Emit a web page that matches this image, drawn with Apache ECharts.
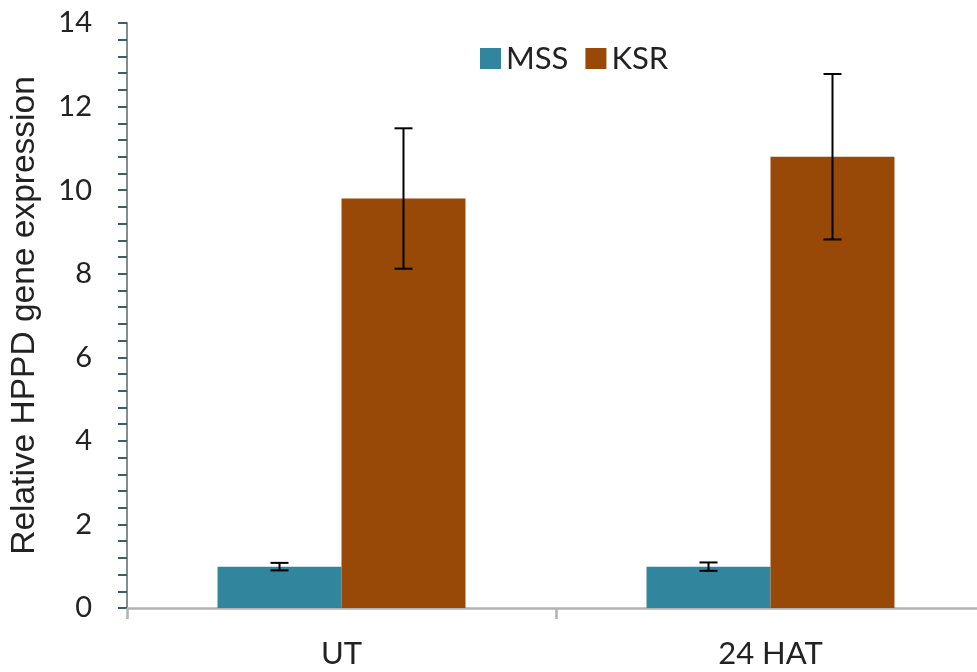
<!DOCTYPE html>
<html>
<head>
<meta charset="utf-8">
<script src="https://cdn.jsdelivr.net/npm/echarts@6/dist/echarts.min.js"></script>
<style>html,body{margin:0;padding:0;background:#fff;}#c{width:977px;height:672px;}</style>
</head>
<body>
<div id="c"></div>
<script>
const categories = ['UT', '24 HAT'];
const mssValues = [0.99, 0.99];
const mssErr = [0.09, 0.10];
const ksrValues = [9.80, 10.80];
const ksrErr = [1.68, 1.98];
const yTicks = [0, 2, 4, 6, 8, 10, 12, 14];

const BAR_FRAC = 0.289;
function errSeries(name, values, errs, side) {
  return {
    type: 'custom',
    name: name + ' err',
    z: 10,
    silent: true,
    renderItem: function (params, api) {
      const i = api.value(0);
      const v = api.value(1);
      const e = api.value(2);
      const catW = api.size([1, 0])[0];
      const off = side * catW * BAR_FRAC / 2;
      const hi = api.coord([i, v + e]);
      const lo = api.coord([i, v - e]);
      const x = hi[0] + off;
      const cap = 9;
      const style = { stroke: '#000', lineWidth: 2 };
      return {
        type: 'group',
        children: [
          { type: 'line', shape: { x1: x, y1: hi[1], x2: x, y2: lo[1] }, style: style },
          { type: 'line', shape: { x1: x - cap, y1: hi[1], x2: x + cap, y2: hi[1] }, style: style },
          { type: 'line', shape: { x1: x - cap, y1: lo[1], x2: x + cap, y2: lo[1] }, style: style }
        ]
      };
    },
    encode: { x: 0, y: 1 },
    data: values.map((v, i) => [i, v, errs[i]])
  };
}

const chart = echarts.init(document.getElementById('c'), null, { renderer: 'canvas' });
chart.setOption({
  animation: false,
  backgroundColor: '#fff',
  grid: { left: 127, width: 858, top: 23, height: 585, containLabel: false, outerBoundsMode: 'none' },
  legend: {
    data: ['MSS', 'KSR'],
    left: 475,
    top: 38,
    icon: 'rect',
    itemWidth: 21,
    itemHeight: 21,
    itemGap: 17,
    textStyle: { fontFamily: 'Lato', fontSize: 31, color: '#222', padding: [0, 0, 0, 0] }
  },
  xAxis: {
    type: 'category',
    data: categories,
    axisLine: { lineStyle: { color: '#b3b3b3', width: 2.5 } },
    axisTick: { show: true, length: 11, lineStyle: { color: '#b3b3b3', width: 2.5 } },
    axisLabel: { fontFamily: 'Lato', fontSize: 31, color: '#222', margin: 30 },
    splitLine: { show: false }
  },
  yAxis: {
    type: 'value',
    min: 0,
    max: 14,
    interval: 2,
    name: 'Relative HPPD gene expression',
    nameLocation: 'middle',
    nameGap: 85,
    nameTextStyle: { fontFamily: 'Liberation Sans', fontSize: 33.5, color: '#222' },
    axisLine: { show: true, lineStyle: { color: '#7f8f8f', width: 2 } },
    axisTick: { show: true, length: 9, lineStyle: { color: '#3e5f5f', width: 2 } },
    minorTick: { show: true, splitNumber: 5, length: 9, lineStyle: { color: '#3e5f5f', width: 2 } },
    axisLabel: { fontFamily: 'Lato', fontSize: 29, color: '#222', margin: 35,
      formatter: function (v) { return yTicks.indexOf(v) >= 0 ? String(v) : ''; } },
    splitLine: { show: false }
  },
  series: [
    { name: 'MSS', type: 'bar', data: mssValues, barWidth: (BAR_FRAC * 100) + '%', barGap: '0%',
      itemStyle: { color: '#31859C' } },
    { name: 'KSR', type: 'bar', data: ksrValues, barWidth: (BAR_FRAC * 100) + '%', barGap: '0%',
      itemStyle: { color: '#984807' } },
    errSeries('MSS', mssValues, mssErr, -1),
    errSeries('KSR', ksrValues, ksrErr, 1)
  ]
});
</script>
</body>
</html>
